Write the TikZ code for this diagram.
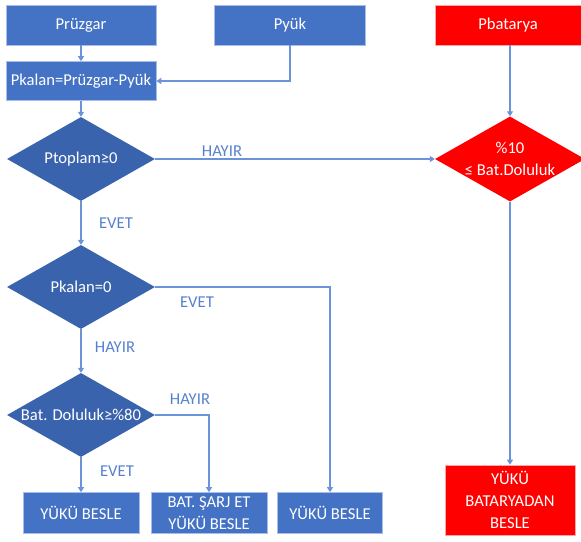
\documentclass[tikz,border=0pt]{standalone}
\usepackage{fontspec}
\setmainfont{Carlito}
\usetikzlibrary{arrows.meta, shapes.geometric}

\definecolor{boxblue}{HTML}{4472C4}
\definecolor{diablue}{HTML}{3A63AD}
\definecolor{lineblue}{HTML}{6A93DA}
\definecolor{lblblue}{HTML}{5580CF}
\definecolor{boxred}{HTML}{FF0000}

\begin{document}
\begin{tikzpicture}[x=1pt, y=-1pt,
		font=\fontsize{16.6}{22}\selectfont,
		box/.style = {rectangle, fill=boxblue, draw=lineblue!60, line width=0.6pt, text=white, align=center, inner sep=0pt},
		redbox/.style = {box, fill=boxred, draw=red!35},
		dia/.style = {diamond, fill=diablue, inner sep=0pt, minimum width=148, minimum height=84},
		inside/.style = {text=white, align=center},
		lbl/.style = {text=lblblue, inner sep=0pt},
		conn/.style = {draw=lineblue, line width=1.1pt, -{Triangle[width=6pt, length=5pt]}}
	]
	\useasboundingbox (0,0) rectangle (581,541);

	% top row
	\node [box, minimum width=150, minimum height=40] (pruzgar) at (81,25) {Prüzgar};
	\node [box, minimum width=151, minimum height=40] (pyuk) at (290,25) {Pyük};
	\node [redbox, minimum width=146, minimum height=40] (pbat) at (508,25) {Pbatarya};

	\node [box, minimum width=150, minimum height=39] (pkalan) at (81,81) {Pkalan=Prüzgar-Pyük};

	% decisions
	\node [dia, label={[inside]center:Ptoplam≥0}] (ptoplam) at (81,159) {};
	\node [dia, label={[inside]center:Pkalan=0}] (sifir) at (81,287) {};
	\node [dia, label={[inside]center:Bat. Doluluk≥\%80}] (doluluk) at (81,415) {};
	\node [dia, fill=boxred, minimum width=150, minimum height=85,
		label={[inside]center:\%10\\≤ Bat.Doluluk}] (batdol) at (510,159) {};

	% outcomes
	\node [box, minimum width=116, minimum height=41] (besle) at (81,513) {YÜKÜ BESLE};
	\node [box, minimum width=116, minimum height=41] (sarj) at (209,513) {BAT. ŞARJ ET\\YÜKÜ BESLE};
	\node [box, minimum width=105, minimum height=41] (beslec) at (330,513) {YÜKÜ BESLE};
	\node [redbox, minimum width=130, minimum height=70] (batbesle) at (510,500) {YÜKÜ\\BATARYADAN\\BESLE};

	% answers
	\node [lbl] (hayira) at (222,151) {HAYIR};
	\node [lbl] (eveta) at (116,223) {EVET};
	\node [lbl] (evetb) at (197,302) {EVET};
	\node [lbl] (hayirb) at (115,347) {HAYIR};
	\node [lbl] (hayirc) at (190,399) {HAYIR};
	\node [lbl] (evetc) at (117,471) {EVET};

	\begin{scope}[conn]
		\draw (pruzgar) -- (pkalan);
		\draw (pyuk.south) |- (pkalan.east);
		\draw (pkalan) -- (ptoplam.north);
		\draw (ptoplam.east) -- (batdol.west);
		\draw (ptoplam.south) -- (sifir.north);
		\draw (sifir.east) -| (beslec.north);
		\draw (sifir.south) -- (doluluk.north);
		\draw (doluluk.east) -| (sarj.north);
		\draw (doluluk.south) -- (besle.north);
		\draw (batdol.north |- pbat.south) -- (batdol.north);
		\draw (batdol.south) -- (batbesle.north);
	\end{scope}
\end{tikzpicture}
\end{document}
